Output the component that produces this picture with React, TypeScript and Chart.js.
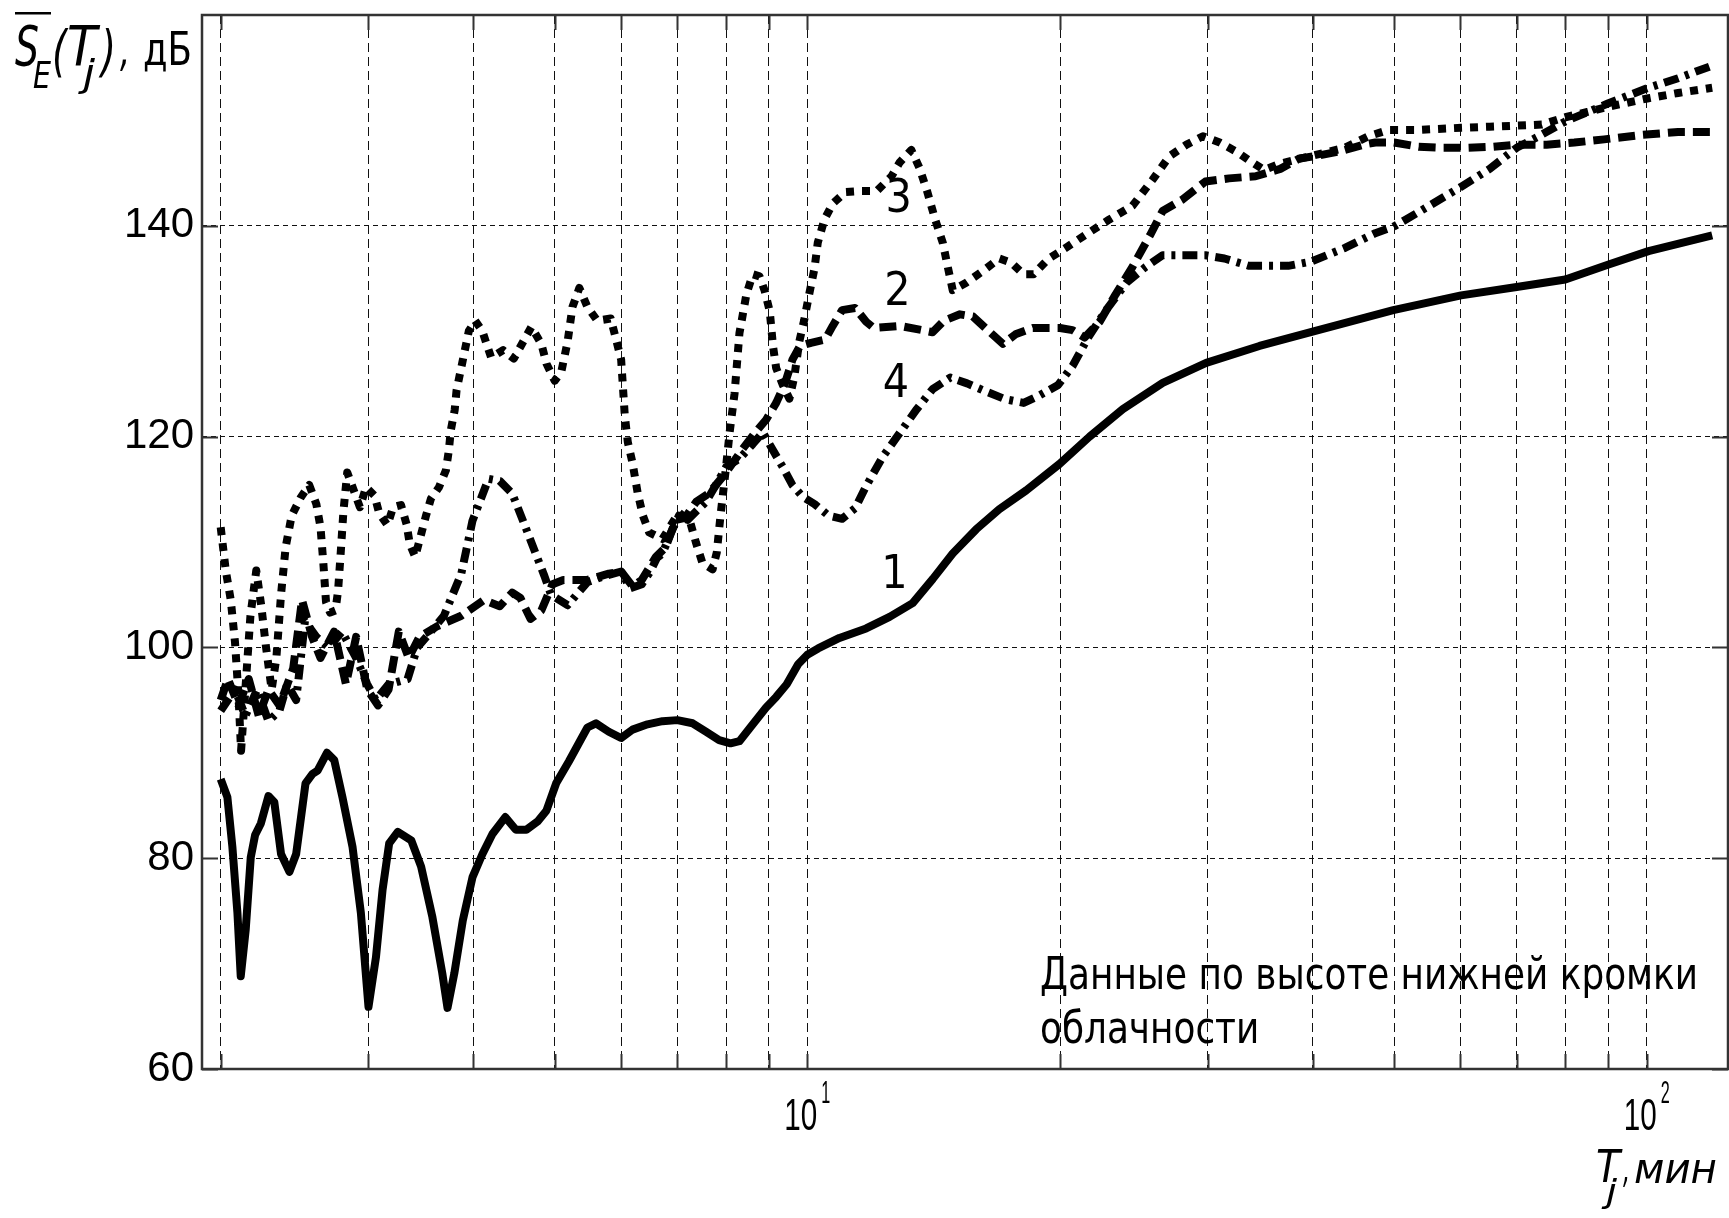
import React, { useEffect, useRef } from "react";
import { Chart, registerables } from "chart.js";

Chart.register(...registerables);

// Averaging interval T_j (minutes) and averaged level S_E(T_j) (dB) for each curve
const t1 = [2.0, 2.037, 2.065, 2.094, 2.113, 2.142, 2.172, 2.198, 2.233, 2.28, 2.317, 2.36, 2.415, 2.46, 2.524, 2.573, 2.609, 2.677, 2.731, 2.793, 2.871, 2.938, 3.0, 3.062, 3.118, 3.175, 3.251, 3.373, 3.466, 3.575, 3.673, 3.726, 3.797, 3.886, 3.991, 4.101, 4.215, 4.366, 4.495, 4.626, 4.774, 4.887, 5.02, 5.2, 5.35, 5.47, 5.6, 5.8, 6.0, 6.19, 6.45, 6.72, 7.0, 7.3, 7.57, 7.85, 8.1, 8.3, 8.55, 8.93, 9.18, 9.45, 9.75, 10.0, 10.3, 10.92, 11.75, 12.53, 13.35, 14.11, 14.9, 15.89, 16.93, 18.23, 19.97, 21.69, 23.76, 26.51, 29.87, 34.57, 40.2, 49.9, 60.1, 70.0, 80.0, 89.9, 100.5, 119.7];
const s1 = [87.5, 85.8, 81.1, 74.8, 68.8, 73.2, 80.1, 82.2, 83.3, 85.9, 85.3, 80.4, 78.7, 80.4, 87.1, 88.0, 88.3, 90.0, 89.3, 85.8, 81.1, 74.8, 65.9, 70.6, 77.0, 81.4, 82.5, 81.7, 79.2, 74.4, 69.1, 65.8, 69.1, 74.1, 78.2, 80.4, 82.3, 83.9, 82.7, 82.7, 83.5, 84.5, 87.1, 89.2, 91.0, 92.4, 92.8, 92.0, 91.4, 92.2, 92.7, 93.0, 93.1, 92.8, 92.0, 91.2, 90.9, 91.1, 92.4, 94.3, 95.3, 96.5, 98.4, 99.3, 99.9, 100.9, 101.8, 102.9, 104.2, 106.5, 108.9, 111.2, 113.1, 114.9, 117.4, 120.0, 122.6, 125.1, 127.0, 128.6, 130.0, 132.0, 133.4, 134.2, 134.9, 136.3, 137.6, 139.1];

const t2 = [2.0, 2.04, 2.1, 2.16, 2.22, 2.28, 2.35, 2.44, 2.5, 2.57, 2.63, 2.73, 2.82, 2.9, 2.99, 3.08, 3.17, 3.26, 3.35, 3.45, 3.62, 3.87, 4.12, 4.3, 4.45, 4.55, 4.68, 4.82, 4.97, 5.12, 5.47, 5.8, 6.0, 6.19, 6.35, 6.6, 6.78, 6.97, 7.15, 7.37, 7.63, 7.93, 8.15, 8.35, 8.67, 8.93, 9.18, 9.4, 9.6, 9.8, 10.1, 10.5, 10.72, 11.0, 11.4, 11.75, 12.0, 12.9, 13.7, 14.1, 14.55, 15.2, 15.75, 16.3, 17.1, 17.7, 18.56, 20.0, 20.7, 21.4, 22.3, 23.3, 24.4, 25.6, 26.5, 28.0, 29.8, 31.8, 34.2, 36.6, 38.6, 40.2, 43.3, 46.0, 47.5, 50.0, 53.5, 57.0, 61.0, 65.6, 70.0, 76.0, 82.0, 89.0, 98.0, 109.0, 119.7];
const s2 = [95.0, 97.0, 94.5, 97.0, 93.5, 96.0, 94.5, 98.0, 104.5, 101.0, 99.0, 101.5, 96.5, 101.0, 96.0, 94.5, 96.0, 101.5, 99.0, 101.0, 102.0, 103.0, 104.5, 103.9, 105.2, 104.7, 102.7, 103.5, 106.0, 106.4, 106.4, 107.0, 107.2, 105.8, 106.4, 108.6, 109.5, 112.1, 112.3, 113.8, 114.6, 116.2, 117.5, 118.7, 120.4, 121.6, 123.2, 125.0, 127.3, 128.6, 128.9, 129.2, 130.5, 132.0, 132.2, 130.9, 130.3, 130.5, 130.1, 129.9, 131.0, 131.6, 131.4, 130.3, 128.8, 129.7, 130.3, 130.3, 130.1, 129.4, 130.9, 133.5, 136.1, 139.1, 141.4, 142.5, 144.2, 144.5, 144.7, 145.4, 146.4, 146.6, 147.1, 147.7, 147.9, 147.9, 147.5, 147.4, 147.4, 147.5, 147.7, 147.7, 147.9, 148.2, 148.6, 148.9, 148.9];

const t3 = [2.0, 2.028, 2.056, 2.08, 2.1, 2.115, 2.14, 2.17, 2.205, 2.235, 2.265, 2.3, 2.33, 2.36, 2.39, 2.43, 2.49, 2.55, 2.6, 2.63, 2.65, 2.67, 2.7, 2.74, 2.76, 2.78, 2.8, 2.83, 2.89, 2.93, 2.98, 3.05, 3.09, 3.16, 3.21, 3.28, 3.33, 3.36, 3.41, 3.46, 3.51, 3.56, 3.64, 3.71, 3.74, 3.76, 3.8, 3.82, 3.88, 3.95, 4.02, 4.1, 4.2, 4.34, 4.47, 4.69, 4.82, 4.89, 5.0, 5.09, 5.18, 5.25, 5.35, 5.47, 5.62, 5.83, 5.91, 6.0, 6.06, 6.11, 6.19, 6.28, 6.37, 6.48, 6.72, 7.03, 7.25, 7.37, 7.5, 7.71, 7.8, 7.88, 8.0, 8.08, 8.19, 8.3, 8.46, 8.61, 8.77, 8.89, 9.02, 9.1, 9.18, 9.35, 9.52, 9.65, 9.78, 9.91, 10.05, 10.2, 10.29, 10.48, 10.72, 11.1, 11.6, 12.1, 12.6, 12.88, 13.3, 13.6, 13.9, 14.2, 14.5, 14.7, 14.9, 15.46, 16.18, 16.93, 17.5, 18.1, 18.6, 19.4, 20.4, 21.6, 22.9, 24.4, 25.8, 27.0, 28.3, 29.6, 31.0, 32.5, 33.6, 35.0, 36.6, 40.2, 43.7, 46.6, 49.3, 53.5, 60.1, 65.0, 70.0, 75.0, 80.0, 85.0, 90.0, 100.5, 109.0, 119.7];
const s3 = [111.4, 107.3, 104.5, 100.5, 95.5, 90.2, 96.0, 103.0, 107.3, 104.0, 100.0, 96.0, 99.0, 105.0, 109.5, 112.5, 114.2, 115.4, 113.6, 111.4, 108.1, 104.3, 103.3, 103.5, 105.4, 109.0, 112.8, 116.6, 114.6, 113.3, 115.2, 114.4, 112.7, 111.6, 113.3, 113.5, 111.7, 109.8, 108.6, 110.5, 112.4, 114.1, 115.2, 116.8, 118.7, 120.6, 122.5, 124.4, 127.0, 130.0, 131.0, 130.0, 127.5, 128.2, 127.4, 130.4, 128.8, 126.9, 125.3, 126.1, 129.0, 132.3, 134.1, 132.3, 131.0, 131.2, 129.4, 127.3, 122.0, 119.5, 117.5, 114.6, 112.5, 110.9, 110.3, 112.8, 111.9, 109.9, 108.0, 107.4, 109.0, 112.5, 117.1, 120.4, 124.1, 129.8, 133.5, 135.4, 135.2, 133.9, 131.9, 128.6, 126.5, 124.9, 123.6, 125.7, 129.0, 131.0, 133.5, 136.0, 138.4, 140.6, 142.1, 143.2, 143.3, 143.3, 144.7, 146.0, 147.2, 145.5, 143.2, 140.6, 138.4, 136.1, 133.9, 134.6, 135.7, 136.9, 136.5, 135.4, 135.4, 136.9, 138.0, 139.3, 140.6, 141.9, 144.4, 146.6, 147.7, 148.5, 147.9, 147.0, 146.2, 145.3, 145.9, 146.7, 147.4, 148.5, 149.1, 149.1, 149.3, 149.4, 149.5, 149.6, 150.3, 150.8, 151.3, 152.1, 152.6, 153.1];

const t4 = [2.0, 2.08, 2.14, 2.21, 2.28, 2.35, 2.4, 2.46, 2.52, 2.6, 2.69, 2.79, 2.9, 2.99, 3.06, 3.17, 3.34, 3.43, 3.56, 3.69, 3.87, 3.99, 4.17, 4.3, 4.45, 4.6, 4.73, 4.86, 4.95, 5.18, 5.47, 5.75, 6.0, 6.15, 6.35, 6.5, 6.62, 6.72, 6.88, 7.03, 7.2, 7.37, 7.57, 7.78, 8.0, 8.3, 8.61, 8.85, 9.1, 9.35, 9.6, 9.87, 10.2, 10.6, 11.0, 11.4, 11.75, 12.3, 12.9, 13.5, 14.1, 14.8, 15.5, 16.3, 17.2, 18.1, 18.9, 19.9, 20.7, 21.6, 22.7, 24.0, 25.3, 26.5, 28.0, 29.8, 31.4, 33.6, 37.4, 39.8, 43.7, 47.5, 49.9, 53.5, 60.1, 65.0, 70.0, 74.0, 80.0, 89.9, 100.5, 109.0, 119.7];
const s4 = [94.0, 96.0, 93.5, 96.0, 93.0, 94.0, 96.5, 95.0, 102.5, 101.0, 100.0, 101.5, 99.0, 96.5, 95.0, 96.5, 97.0, 100.0, 101.5, 103.0, 107.0, 112.0, 116.0, 115.8, 114.6, 111.7, 109.2, 106.8, 105.0, 104.0, 106.2, 106.8, 107.2, 105.6, 106.0, 107.2, 108.5, 108.9, 110.9, 112.5, 112.1, 112.9, 113.8, 115.4, 117.1, 117.9, 119.3, 120.4, 118.7, 117.1, 115.4, 114.3, 113.6, 112.5, 112.2, 113.2, 115.3, 118.1, 120.4, 122.6, 124.5, 125.6, 125.05, 124.3, 123.55, 123.2, 123.9, 124.9, 126.7, 129.4, 132.0, 134.6, 136.1, 137.2, 137.2, 137.2, 136.9, 136.2, 136.2, 136.6, 137.9, 139.3, 139.9, 141.3, 143.7, 145.4, 147.4, 148.4, 149.9, 151.6, 153.1, 154.0, 155.2];

// Axis ticks
const xGridTicks = [2, 3, 4, 5, 6, 7, 8, 9, 10, 20, 30, 40, 50, 60, 70, 80, 90, 100];
const xDecadeLabels = [10, 100];
const yTicks = [60, 80, 100, 120, 140, 160];
const yLabelTicks = [60, 80, 100, 120, 140];

// Curve numbers placed next to the curves (T, dB)
const curveNames = ["1", "2", "3", "4"];
const curveNameT = [12.7, 12.8, 12.85, 12.75];
const curveNameS = [106.8, 133.6, 142.4, 124.9];

const noteLines = ["Данные по высоте нижней кромки", "облачности"];

const SANS = "'DejaVu Sans Condensed', 'DejaVu Sans', sans-serif";
const NARROW = "'Liberation Sans Narrow', 'Liberation Sans', Arial, sans-serif";

function zip(t: number[], s: number[]) {
  const n = Math.min(t.length, s.length);
  const out: { x: number; y: number }[] = [];
  for (let i = 0; i < n; i++) out.push({ x: t[i], y: s[i] });
  return out;
}

// Draws text starting at (x, baseline y), squeezed horizontally to a given width
function fitText(ctx: CanvasRenderingContext2D, text: string, x: number, y: number, font: string, width?: number) {
  ctx.font = font;
  const w = ctx.measureText(text).width;
  const sx = width ? width / w : 1;
  ctx.save();
  ctx.translate(x, y);
  ctx.scale(sx, 1);
  ctx.textAlign = "left";
  ctx.textBaseline = "alphabetic";
  ctx.fillText(text, 0, 0);
  ctx.restore();
  return sx;
}

const decorations = {
  id: "decorations",
  afterDraw(chart: any) {
    const { ctx, chartArea: a, scales } = chart;
    const xs = scales.x;
    const ys = scales.y;
    ctx.save();

    // Frame
    ctx.strokeStyle = "#333";
    ctx.lineWidth = 2.5;
    ctx.strokeRect(a.left, a.top, a.right - a.left, a.bottom - a.top);

    // Inward tick marks
    ctx.lineWidth = 2;
    ctx.beginPath();
    for (const v of xGridTicks) {
      const px = Math.round(xs.getPixelForValue(v)) + 0.5;
      ctx.moveTo(px, a.bottom);
      ctx.lineTo(px, a.bottom - 15);
      ctx.moveTo(px, a.top);
      ctx.lineTo(px, a.top + 15);
    }
    for (const v of yLabelTicks) {
      const py = Math.round(ys.getPixelForValue(v)) + 0.5;
      ctx.moveTo(a.left, py);
      ctx.lineTo(a.left + 16, py);
      ctx.moveTo(a.right, py);
      ctx.lineTo(a.right - 16, py);
    }
    ctx.stroke();

    ctx.fillStyle = "#000";

    // Decade labels on the T axis
    for (const v of xDecadeLabels) {
      const px = xs.getPixelForValue(v);
      const exp = String(Math.round(Math.log10(v)));
      fitText(ctx, "10", px - 23, a.bottom + 61, `44px ${NARROW}`, 33);
      fitText(ctx, exp, px + 14, a.bottom + 34, `31px ${NARROW}`, 9);
    }

    // Curve numbers
    ctx.font = `46px ${SANS}`;
    ctx.textAlign = "center";
    ctx.textBaseline = "middle";
    curveNames.forEach((name, i) => {
      ctx.fillText(name, xs.getPixelForValue(curveNameT[i]), ys.getPixelForValue(curveNameS[i]));
    });

    // Note in the lower right corner
    const sx = fitText(ctx, noteLines[0], a.left + 838, a.bottom - 80, `44px ${SANS}`, 658);
    ctx.font = `44px ${SANS}`;
    const w2 = ctx.measureText(noteLines[1]).width * sx;
    fitText(ctx, noteLines[1], a.left + 838, a.bottom - 26, `44px ${SANS}`, w2);

    // Y axis title: overline S_E(T_j), дБ
    ctx.fillRect(15, 12, 36, 2.5);
    fitText(ctx, "S", 15, 65, `italic 56px ${SANS}`, 24);
    fitText(ctx, "E", 33, 88, `italic 38px ${SANS}`, 18);
    fitText(ctx, "(", 52, 70, `italic 56px ${SANS}`, 15);
    fitText(ctx, "T", 67, 65, `italic 56px ${SANS}`, 30);
    fitText(ctx, "j", 83, 86, `italic 38px ${SANS}`, 12);
    fitText(ctx, ")", 101, 70, `italic 56px ${SANS}`, 15);
    fitText(ctx, ",", 120, 65, `italic 48px ${SANS}`, 10);
    fitText(ctx, "дБ", 143, 65, `46px ${SANS}`, 49);

    // X axis title: T_j, мин
    const H = chart.height;
    const W = chart.width;
    fitText(ctx, "T", W - 133, H - 36, `italic 44px ${SANS}`, 24);
    fitText(ctx, "j", W - 123, H - 16, `italic 32px ${SANS}`, 11);
    fitText(ctx, ",", W - 106, H - 36, `italic 40px ${SANS}`, 7);
    fitText(ctx, "мин", W - 95, H - 35, `italic 42px ${SANS}`, 83);

    ctx.restore();
  },
};

export default function App() {
  const canvasRef = useRef<HTMLCanvasElement | null>(null);

  useEffect(() => {
    const canvas = canvasRef.current;
    if (!canvas) return;

    const common = {
      pointRadius: 0,
      borderColor: "#000",
      borderWidth: 8,
      fill: false,
      tension: 0,
      borderCapStyle: "butt" as const,
      borderJoinStyle: "round" as const,
    };

    const chart = new Chart(canvas, {
      type: "line",
      data: {
        datasets: [
          { ...common, label: "1", data: zip(t1, s1), borderDash: [] },
          { ...common, label: "2", data: zip(t2, s2), borderDash: [17, 8] },
          { ...common, label: "3", data: zip(t3, s3), borderDash: [8, 8] },
          { ...common, label: "4", data: zip(t4, s4), borderDash: [15, 7, 4, 7] },
        ],
      },
      options: {
        responsive: false,
        maintainAspectRatio: false,
        animation: false,
        devicePixelRatio: 1,
        layout: { padding: { top: 15, right: 1, left: 0, bottom: 0 } },
        plugins: {
          legend: { display: false },
          tooltip: { enabled: false },
        },
        scales: {
          x: {
            type: "logarithmic",
            min: 1.9,
            max: 125,
            afterBuildTicks: (scale: any) => {
              scale.ticks = xGridTicks.map((v) => ({ value: v }));
            },
            afterFit: (scale: any) => {
              scale.height = 149;
              scale.paddingLeft = 0;
              scale.paddingRight = 0;
              scale.paddingTop = 0;
              scale.paddingBottom = 0;
            },
            ticks: { display: false },
            grid: { color: "#111", lineWidth: 1, drawTicks: false },
            border: { display: false, dash: [9, 5] },
          },
          y: {
            type: "linear",
            min: 60,
            max: 160,
            afterBuildTicks: (scale: any) => {
              scale.ticks = yTicks.map((v) => ({ value: v }));
            },
            afterFit: (scale: any) => {
              scale.width = 202;
              scale.paddingLeft = 0;
              scale.paddingRight = 0;
              scale.paddingTop = 0;
              scale.paddingBottom = 0;
            },
            ticks: {
              color: "#000",
              padding: 8,
              font: { family: NARROW, size: 42 },
              callback: (value: any) => (yLabelTicks.includes(Number(value)) ? String(value) : ""),
            },
            grid: { color: "#111", lineWidth: 1, drawTicks: false },
            border: { display: false, dash: [5, 4] },
          },
        },
      },
      plugins: [decorations],
    });

    return () => {
      chart.destroy();
    };
  }, []);

  return (
    <div style={{ position: "absolute", left: 0, top: 0, width: 1729, height: 1218, background: "#fff" }}>
      <canvas ref={canvasRef} width={1729} height={1218} style={{ display: "block" }} />
    </div>
  );
}
